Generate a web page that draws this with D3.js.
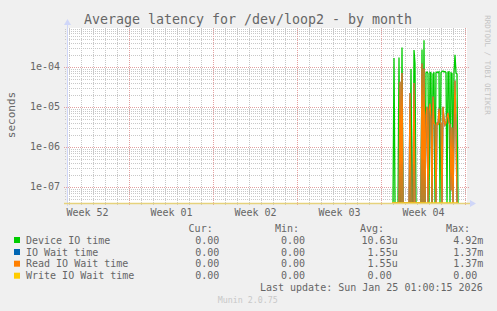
<!DOCTYPE html>
<html>
<head>
<meta charset="utf-8">
<title>Average latency for /dev/loop2 - by month</title>
<script src="https://d3js.org/d3.v7.min.js"></script>
<style>
  body { margin: 0; background: #f0f0f0; }
  svg text { font-family: "DejaVu Sans Mono", monospace; fill: #666; }
</style>
</head>
<body>
<svg width="497" height="311"></svg>
<script>
// --- data ---
const weekStarts = ["2025-12-29", "2026-01-05", "2026-01-12", "2026-01-19", "2026-01-26"];
const weekLabels = ["Week 52", "Week 01", "Week 02", "Week 03", "Week 04"];
const weekLabelAt = ["2025-12-25T12:00Z", "2026-01-01T12:00Z", "2026-01-08T12:00Z", "2026-01-15T12:00Z", "2026-01-22T12:00Z"];
const yTickValues = [1e-7, 1e-6, 1e-5, 1e-4];
const yTickLabels = ["1e-07", "1e-06", "1e-05", "1e-04"];

// samples every 2 hours from Jan 19 22:00
const sampleStart = "2026-01-19T22:00Z";
const deviceIO = [
  0, 0, 1.65e-4, 0, 0, 0, 0, 1.7e-4, 0, 0,
  3.0e-4, 0, 0, 0, 0, 0, 0, 0, 0, 8.8e-5,
  0, 0, 2.6e-4, 1.2e-4, 0, 0, 0, 0, 0, 0,
  2.7e-4, 0, 4.6e-4, 0, 7.0e-5, 7.4e-5, 6.8e-5, 0, 7.2e-5, 7.0e-5,
  0, 6.5e-5, 7.3e-5, 0, 7.0e-5, 7.4e-5, 7.2e-5, 7.5e-5, 0, 7.2e-5,
  7.6e-5, 7.8e-5, 7.4e-5, 7.6e-5, 7.2e-5, 0, 7.3e-5, 7.5e-5, 0, 7.0e-5,
  6.8e-5, 1.0e-7, 7.0e-5, 2.0e-4, 7.0e-5, 6.5e-5, 0
];
const readWait = [
  0, 0, 0, 0, 0, 0, 0, 0, 4.2e-5, 0,
  7.0e-5, 0, 0, 0, 0, 0, 0, 0, 2.2e-5, 0,
  0, 0, 3.9e-5, 0, 0, 0, 0, 0, 0, 0,
  1.2e-4, 0, 9.0e-5, 0, 6.0e-6, 1.0e-5, 0, 8.0e-6, 1.2e-5, 5.0e-6,
  0, 1.8e-5, 4.0e-6, 3.5e-6, 0, 4.0e-6, 3.5e-6, 9.0e-6, 4.0e-6, 3.8e-6,
  0, 1.0e-5, 5.0e-6, 3.5e-6, 4.0e-6, 5.5e-6, 7.0e-6, 4.0e-6, 3.5e-6, 8.0e-8,
  3.0e-6, 0, 2.5e-6, 4.5e-5, 3.0e-6, 0, 0
];
const ioWait = readWait.slice();           // identical to read wait
const writeWait = readWait.map(() => 0);   // always zero

const legendNames = ["Device IO time", "IO Wait time", "Read IO Wait time", "Write IO Wait time"];
const legendColors = ["#00cc00", "#0066b3", "#ff8000", "#ffcc00"];
const curVals = ["0.00 ", "0.00 ", "0.00 ", "0.00 "];
const minVals = ["0.00 ", "0.00 ", "0.00 ", "0.00 "];
const avgVals = ["10.63u", "1.55u", "1.55u", "0.00 "];
const maxVals = ["4.92m", "1.37m", "1.37m", "0.00 "];

// --- layout ---
const pLeft = 67, pRight = 467, pTop = 28, pBottom = 203;
const svg = d3.select("svg");

const x = d3.scaleUtc()
  .domain([new Date("2025-12-23T20:00Z"), new Date("2026-01-26T04:00Z")])
  .range([pLeft, pRight]);
const y = d3.scaleLog()
  .domain([3.914e-8, 9.28e-4])
  .range([pBottom, pTop])
  .clamp(true);

// plot canvas
svg.append("rect")
  .attr("x", pLeft).attr("y", pTop)
  .attr("width", pRight - pLeft).attr("height", pBottom - pTop)
  .attr("fill", "#fff");

svg.append("clipPath").attr("id", "plot")
  .append("rect")
  .attr("x", pLeft).attr("y", pTop - 2)
  .attr("width", pRight - pLeft).attr("height", pBottom - pTop + 2);

// grid
const grid = svg.append("g").attr("fill", "none").attr("stroke-width", 1)
  .attr("shape-rendering", "crispEdges");

const days = d3.utcDay.range(x.domain()[0], x.domain()[1]);
grid.selectAll(".vday").data(days).join("line")
  .attr("x1", d => Math.round(x(d)) + 0.5).attr("x2", d => Math.round(x(d)) + 0.5)
  .attr("y1", pTop).attr("y2", pBottom + 2)
  .attr("stroke", "#c8c8c8").attr("stroke-dasharray", "1,1");

const minorY = [];
[-8, -7, -6, -5, -4].forEach(e => {
  for (let m = 2; m <= 9; m++) {
    const v = m * Math.pow(10, e);
    if (v > y.domain()[0] && v < y.domain()[1]) minorY.push(v);
  }
});
grid.selectAll(".hmin").data(minorY).join("line")
  .attr("x1", pLeft - 2).attr("x2", pRight)
  .attr("y1", d => Math.round(y(d)) + 0.5).attr("y2", d => Math.round(y(d)) + 0.5)
  .attr("stroke", "#c8c8c8").attr("stroke-dasharray", "1,1");

grid.selectAll(".vweek").data(weekStarts.map(d => new Date(d + "T00:00Z"))).join("line")
  .attr("x1", d => Math.round(x(d)) + 0.5).attr("x2", d => Math.round(x(d)) + 0.5)
  .attr("y1", pTop).attr("y2", pBottom + 3)
  .attr("stroke", "#e4a0a0").attr("stroke-dasharray", "1,1");

grid.selectAll(".hmaj").data(yTickValues).join("line")
  .attr("x1", pLeft - 3).attr("x2", pRight + 2)
  .attr("y1", d => Math.round(y(d)) + 0.5).attr("y2", d => Math.round(y(d)) + 0.5)
  .attr("stroke", "#e4a0a0").attr("stroke-dasharray", "1,1");

// series
const times = deviceIO.map((_, i) => d3.utcHour.offset(new Date(sampleStart), 2 * i));
const lo = y.domain()[0];
const line = d3.line()
  .x((d, i) => x(times[i]))
  .y(d => y(Math.max(d, lo)));

const series = [deviceIO, ioWait, readWait, writeWait];
const plot = svg.append("g").attr("clip-path", "url(#plot)");
series.forEach((s, k) => {
  plot.append("path")
    .datum(s)
    .attr("fill", "none")
    .attr("stroke", legendColors[k])
    .attr("stroke-width", 1.3)
    .attr("d", line);
});

// axes lines + arrows
svg.append("line")
  .attr("x1", pLeft + 0.5).attr("x2", pLeft + 0.5)
  .attr("y1", pTop - 3).attr("y2", pBottom + 3)
  .attr("stroke", "#cfd6f8");
svg.append("line")
  .attr("x1", pLeft - 3).attr("x2", pRight + 3)
  .attr("y1", pBottom + 0.5).attr("y2", pBottom + 0.5)
  .attr("stroke", "#e6d27c").attr("stroke-width", 1.5);
svg.append("path")
  .attr("d", `M${pLeft - 3},${pTop - 3}L${pLeft + 0.5},${pTop - 9}L${pLeft + 4},${pTop - 3}Z`)
  .attr("fill", "#cfd6f8");
svg.append("path")
  .attr("d", `M${pRight + 3},${pBottom - 3}L${pRight + 9},${pBottom + 0.5}L${pRight + 3},${pBottom + 4}Z`)
  .attr("fill", "#cfd6f8");

// tick labels
const yAxis = svg.append("g")
  .attr("transform", `translate(${pLeft},0)`)
  .call(d3.axisLeft(y).tickValues(yTickValues)
    .tickFormat((d, i) => yTickLabels[i]).tickSize(0).tickPadding(7));
yAxis.select(".domain").remove();
yAxis.selectAll("text").attr("font-size", 10);
yAxis.attr("font-family", null);

const xAxis = svg.append("g")
  .attr("transform", `translate(0,${pBottom})`)
  .call(d3.axisBottom(x).tickValues(weekLabelAt.map(d => new Date(d)))
    .tickFormat((d, i) => weekLabels[i]).tickSize(0).tickPadding(6));
xAxis.select(".domain").remove();
xAxis.selectAll("text").attr("font-size", 10);
xAxis.attr("font-family", null);

// titles
svg.append("text")
  .attr("x", 248).attr("y", 23.5)
  .attr("text-anchor", "middle")
  .attr("font-size", 13.3)
  .text("Average latency for /dev/loop2 - by month");

svg.append("text")
  .attr("transform", "translate(14.5,115) rotate(-90)")
  .attr("text-anchor", "middle")
  .attr("font-size", 11)
  .text("seconds");

svg.append("text")
  .attr("transform", "translate(485,65) rotate(90)")
  .attr("text-anchor", "middle")
  .attr("font-size", 7.5)
  .style("fill", "#c4c4c4")
  .text("RRDTOOL / TOBI OETIKER");

// legend
const headers = [["Cur:", 212.7], ["Min:", 299], ["Avg:", 384], ["Max:", 470]];
svg.selectAll(".hdr").data(headers).join("text")
  .attr("x", d => d[1]).attr("y", 231.5)
  .attr("text-anchor", "end").attr("font-size", 10)
  .text(d => d[0]);

const rowY = [243.5, 255.5, 267.2, 279.2];
const cols = [[curVals, 225.3], [minVals, 311], [avgVals, 397.7], [maxVals, 483.3]];
legendNames.forEach((name, i) => {
  svg.append("rect")
    .attr("x", 14).attr("y", rowY[i] - 6.5)
    .attr("width", 6).attr("height", 6)
    .attr("fill", legendColors[i]);
  svg.append("text")
    .attr("x", 26).attr("y", rowY[i])
    .attr("font-size", 10)
    .text(name);
  cols.forEach(c => {
    svg.append("text")
      .attr("x", c[1]).attr("y", rowY[i])
      .attr("text-anchor", "end").attr("font-size", 10)
      .style("white-space", "pre")
      .text(c[0][i]);
  });
});

svg.append("text")
  .attr("x", 482.7).attr("y", 291)
  .attr("text-anchor", "end").attr("font-size", 10)
  .text("Last update: Sun Jan 25 01:00:15 2026");

svg.append("text")
  .attr("x", 247.7).attr("y", 303)
  .attr("text-anchor", "middle").attr("font-size", 8.3)
  .style("fill", "#c8c8c8")
  .text("Munin 2.0.75");
</script>
</body>
</html>
